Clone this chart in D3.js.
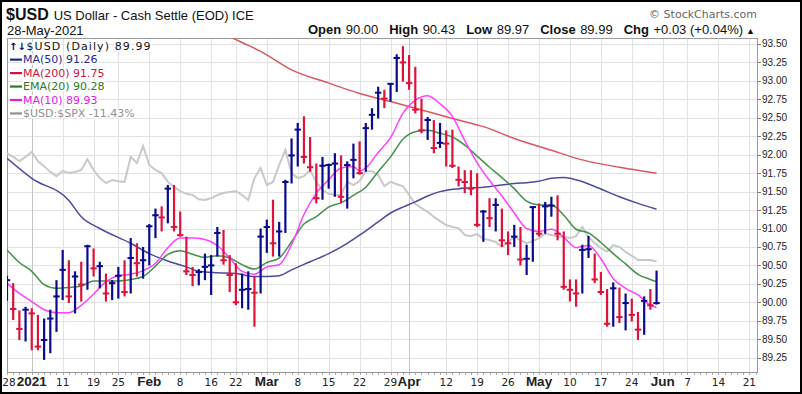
<!DOCTYPE html>
<html><head><meta charset="utf-8">
<script src="https://cdnjs.cloudflare.com/ajax/libs/d3/7.8.5/d3.min.js"></script>
<style>html,body{margin:0;padding:0;background:#fff;}svg{display:block;}</style>
</head><body>
<svg id="c" width="802" height="394"></svg>
<script>
// ---------- DATA (daily bars, index 0 = 28-Dec-2020 ... 105 = 28-May-2021) ----------
const highs = [90.36,90.26,89.89,89.94,89.92,89.83,89.78,89.90,90.30,90.71,
 90.57,90.42,90.55,90.78,90.73,90.55,90.39,90.30,90.48,90.57,
 90.87,90.80,90.75,91.06,91.27,91.30,91.59,91.59,91.23,90.89,
 90.48,90.45,90.66,90.64,91.02,90.98,90.64,90.53,90.39,90.42,
 90.35,91.00,91.12,91.39,91.09,91.66,92.22,92.43,92.52,92.24,
 91.88,91.97,91.88,92.02,91.99,91.91,92.15,92.18,92.43,92.63,
 92.92,92.88,92.97,93.36,93.47,93.35,93.19,92.76,92.51,92.47,
 92.43,92.33,92.34,91.84,91.79,91.79,91.75,91.25,91.41,91.41,
 91.27,90.96,91.05,91.02,90.78,91.30,91.34,91.36,91.43,91.45,
 90.96,90.31,90.31,90.78,90.90,90.66,90.41,90.18,90.27,90.20,
 90.12,90.05,89.87,90.08,90.18,90.43];
const lows = [90.02,89.76,89.49,89.47,89.35,89.35,89.22,89.31,89.60,90.03,
 89.99,89.85,90.01,90.17,90.35,90.19,90.01,90.03,90.05,90.08,
 90.12,90.35,90.32,90.50,90.87,90.96,91.07,90.96,90.89,90.37,
 90.22,90.23,90.30,90.10,90.62,90.51,90.14,89.96,89.92,89.90,
 89.67,90.12,90.67,90.62,90.62,90.94,91.61,91.84,91.88,91.77,
 91.34,91.39,91.54,91.43,91.34,91.27,91.68,91.73,91.77,92.34,
 92.49,92.63,92.72,92.85,92.99,92.88,92.56,92.29,92.20,92.02,
 92.09,91.84,91.82,91.57,91.48,91.45,91.02,90.82,91.02,90.96,
 90.75,90.64,90.75,90.50,90.37,90.55,90.89,90.93,91.16,90.84,
 90.17,90.01,89.94,90.12,90.60,90.26,90.10,89.67,89.67,89.72,
 89.62,89.74,89.49,89.56,89.90,89.97];
const closes = [90.30,89.91,89.64,89.90,89.85,89.40,89.49,89.78,90.08,90.44,
 90.08,90.35,90.24,90.76,90.46,90.49,90.12,90.26,90.36,90.14,
 90.60,90.53,90.57,91.03,91.18,91.15,91.54,91.02,90.91,90.42,
 90.37,90.41,90.48,90.50,90.94,90.57,90.37,90.00,90.17,90.18,
 90.13,90.89,91.02,90.80,90.96,91.63,91.99,92.34,91.97,91.83,
 91.41,91.85,91.86,91.88,91.43,91.86,91.93,91.75,92.36,92.54,
 92.84,92.76,92.96,93.31,93.25,92.97,92.61,92.33,92.47,92.09,
 92.16,92.15,91.85,91.66,91.63,91.54,91.05,91.23,91.14,91.32,
 90.84,90.80,90.89,90.58,90.59,91.29,90.93,91.30,91.31,90.93,
 90.21,90.17,90.12,90.71,90.72,90.31,90.14,89.71,90.19,89.80,
 89.99,89.83,89.63,90.02,89.96,89.99];
const prevClose = 90.21;

// $USD:$SPX ratio (x1000)
const ratio = [24.18,24.09,23.98,24.09,24.22,23.98,23.85,23.70,23.59,23.72,
 23.67,23.70,23.75,24.03,23.75,23.54,23.41,23.49,23.46,23.44,
 24.09,23.93,24.37,23.88,23.75,23.67,23.44,23.31,23.20,23.13,
 23.10,22.99,22.97,23.02,23.10,23.15,23.18,23.20,23.10,22.97,
 23.54,23.80,23.36,23.44,23.88,24.27,23.67,23.54,23.59,23.75,
 23.44,23.23,23.13,23.10,23.10,23.44,23.36,23.46,23.72,23.72,
 23.62,23.33,23.44,23.38,23.33,23.10,22.87,22.76,22.66,22.53,
 22.42,22.32,22.27,22.24,22.06,22.03,22.09,21.96,21.93,21.88,
 21.75,21.88,22.01,21.93,21.85,21.90,21.98,22.09,22.06,22.02,
 22.01,21.98,22.03,22.27,22.01,21.85,21.72,21.63,21.80,21.75,
 21.62,21.52,21.41,21.41,21.41,21.37];

// overlays: [day index, value]
const ma200 = [[36,93.60],[38,93.52],[41,93.40],[46,93.15],[52,92.97],[57,92.83],[62,92.72],[66,92.63],
 [72,92.49],[77,92.38],[82,92.22],[88,92.06],[93,91.93],[99,91.83],[105,91.75]];
const ma50 = [[0,91.95],[4,91.68],[10,91.38],[12,91.16],[15,91.00],[20,90.80],[23,90.66],[26,90.56],
 [29,90.48],[31,90.42],[34,90.40],[37,90.39],[40,90.35],[42,90.35],[44,90.36],[46,90.44],[49,90.55],
 [52,90.66],[55,90.80],[57,90.91],[60,91.09],[62,91.21],[64,91.29],[66,91.36],[68,91.44],[70,91.50],
 [73,91.54],[77,91.56],[80,91.59],[82,91.61],[84,91.62],[86,91.64],[88,91.68],[90,91.69],[92,91.66],
 [95,91.57],[99,91.43],[102,91.34],[105,91.26]];
const ema20 = [[0,90.71],[2,90.54],[4,90.42],[6,90.24],[8,90.19],[10,90.20],[12,90.22],[14,90.29],
 [16,90.29],[18,90.29],[20,90.31],[22,90.35],[24,90.49],[26,90.65],[28,90.70],[30,90.65],[32,90.61],
 [34,90.63],[36,90.60],[38,90.51],[40,90.45],[42,90.54],[44,90.60],[46,90.82],[48,91.06],[50,91.16],
 [52,91.29],[54,91.35],[56,91.45],[58,91.56],[60,91.77],[62,91.97],[64,92.21],[66,92.31],[68,92.33],
 [70,92.29],[72,92.24],[74,92.13],[76,91.98],[78,91.83],[80,91.69],[82,91.54],[84,91.37],[86,91.32],
 [88,91.32],[90,91.18],[92,90.99],[94,90.94],[96,90.81],[98,90.66],[100,90.52],[102,90.38],[104,90.31],[105,90.28]];
const ma10 = [[0,90.26],[2,90.12],[4,90.01],[6,89.90],[8,89.86],[10,89.86],[12,89.96],[14,90.11],
 [16,90.28],[18,90.36],[20,90.38],[22,90.43],[24,90.53],[26,90.74],[28,90.87],[30,90.87],[32,90.85],
 [34,90.77],[36,90.60],[38,90.42],[40,90.38],[42,90.48],[44,90.51],[46,90.78],[48,91.19],[50,91.48],
 [52,91.66],[54,91.82],[56,91.84],[57,91.78],[58,91.82],[60,92.03],[62,92.23],[64,92.56],[66,92.74],
 [68,92.80],[70,92.69],[72,92.52],[74,92.19],[76,91.89],[78,91.65],[80,91.44],[82,91.21],[84,91.00],
 [86,90.96],[88,90.99],[90,90.88],[92,90.74],[94,90.77],[96,90.59],[98,90.32],[100,90.19],[102,90.10],
 [104,89.96],[105,89.93]];

const yTickVals = [89.25,89.50,89.75,90.00,90.25,90.50,90.75,91.00,91.25,91.50,91.75,92.00,92.25,92.50,92.75,93.00,93.25,93.50];
const xTickIdx = [0,4,9,14,18,23,28,33,37,42,47,52,57,62,65,71,76,81,86,91,96,101,106,110,115,120];
const xTickLabels = ['28','2021','11','19','25','Feb','8','16','22','Mar','8','15','22','29','Apr','12','19','26','May','10','17','24','Jun','7','14','21'];
const xTickBold = [0,1,0,0,0,1,0,0,0,1,0,0,0,0,1,0,0,0,1,0,0,0,1,0,0,0];

const legendLabels = ['$USD (Daily) 89.99','MA(50) 91.26','MA(200) 91.75','EMA(20) 90.28','MA(10) 89.93','$USD:$SPX -11.43%'];
const legendColors = ['#111','#1f2a8a','#d0143c','#2a7a2a','#e020e0','#909090'];
const headerLabels = ['Open','High','Low','Close','Chg'];
const headerValues = ['90.00','90.43','89.97','89.99','+0.03 (+0.04%)'];

// ---------- DRAW ----------
const W = 802, H = 394;
const P = {l:7, r:758, t:38, b:372};
const x = d3.scaleLinear().domain([0,121.4]).range([P.l,P.r]);
const y = d3.scaleLinear().domain([89.056,93.581]).range([P.b,P.t]);
const yR = d3.scaleLinear().domain([18.50,27.18]).range([P.b,P.t]);
const UP = '#0a0a8c', DN = '#dc143c';

const svg = d3.select('#c');
svg.append('rect').attr('width',W).attr('height',H).attr('fill','#fff');
svg.append('clipPath').attr('id','clip').append('rect')
  .attr('x',P.l).attr('y',P.t).attr('width',P.r-P.l).attr('height',P.b-P.t);

// grid
const grid = svg.append('g');
grid.selectAll('line.h').data(yTickVals).join('line').attr('class','h')
  .attr('x1',P.l).attr('x2',P.r).attr('y1',d=>Math.round(y(d))+0.5).attr('y2',d=>Math.round(y(d))+0.5)
  .attr('stroke','#e2e2e2').attr('stroke-width',1);
grid.selectAll('line.v').data(xTickIdx.filter(i=>i>0)).join('line').attr('class','v')
  .attr('x1',d=>Math.round(x(d))+0.5).attr('x2',d=>Math.round(x(d))+0.5).attr('y1',P.t).attr('y2',P.b)
  .attr('stroke',d=>(d===65||d===4)?'#c4c4c4':'#e2e2e2').attr('stroke-width',1);

// daily ticks along bottom
svg.append('g').selectAll('line').data(d3.range(0,122)).join('line')
  .attr('x1',d=>Math.round(x(d))+0.5).attr('x2',d=>Math.round(x(d))+0.5)
  .attr('y1',P.b).attr('y2',P.b+3).attr('stroke','#aaa').attr('stroke-width',1);

// plot frame
svg.append('rect').attr('x',P.l+0.5).attr('y',P.t+0.5).attr('width',P.r-P.l-1).attr('height',P.b-P.t)
  .attr('fill','none').attr('stroke','#9a9a9a');

const plotG = svg.append('g').attr('clip-path','url(#clip)');
const line = d3.line().x(d=>x(d[0])).y(d=>y(d[1])).curve(d3.curveMonotoneX);

// ratio line
plotG.append('path').datum(ratio.map((v,i)=>[i,v]))
  .attr('d',d3.line().x(d=>x(d[0])).y(d=>yR(d[1])))
  .attr('fill','none').attr('stroke','#c9c9c9').attr('stroke-width',2);
// MAs
[[ma200,'#d9575f'],[ma50,'#4a4aa0'],[ema20,'#45904a'],[ma10,'#ff40ff']].forEach(([data,c])=>{
  plotG.append('path').datum(data).attr('d',line).attr('fill','none').attr('stroke',c).attr('stroke-width',1.5);
});

// bars
const idx = d3.range(closes.length);
const col = i => closes[i] >= (i ? closes[i-1] : prevClose) ? UP : DN;
const barG = plotG.append('g');
barG.selectAll('line.hl').data(idx).join('line').attr('class','hl')
  .attr('x1',i=>x(i)).attr('x2',i=>x(i)).attr('y1',i=>y(highs[i])).attr('y2',i=>y(lows[i]))
  .attr('stroke',col).attr('stroke-width',2.2);
barG.selectAll('line.cl').data(idx).join('line').attr('class','cl')
  .attr('x1',i=>x(i)-3.2).attr('x2',i=>x(i)+3.2).attr('y1',i=>y(closes[i])).attr('y2',i=>y(closes[i]))
  .attr('stroke',col).attr('stroke-width',2);

// right axis
const ax = svg.append('g');
ax.selectAll('line').data(yTickVals).join('line')
  .attr('x1',P.r).attr('x2',P.r+3).attr('y1',d=>Math.round(y(d))+0.5).attr('y2',d=>Math.round(y(d))+0.5)
  .attr('stroke','#777');
ax.selectAll('text').data(yTickVals).join('text')
  .attr('x',P.r+4).attr('y',d=>y(d)).attr('dy','0.35em')
  .attr('font-family','Liberation Sans, Arial, sans-serif').attr('font-size',10).attr('fill','#222')
  .text(d=>d.toFixed(2));

// x labels
svg.append('g').selectAll('text').data(xTickIdx).join('text')
  .attr('x',d=>Math.max(x(d),9)).attr('y',386).attr('text-anchor','middle')
  .attr('font-family',(d,i)=>xTickBold[i]?'Liberation Sans, Arial, sans-serif':'DejaVu Sans, sans-serif')
  .attr('font-weight',(d,i)=>xTickBold[i]?'bold':'normal')
  .attr('font-size',(d,i)=>xTickBold[i]?13.5:10.5).attr('fill','#222')
  .text((d,i)=>xTickLabels[i]);

// header
const hf = 'Liberation Sans, Arial, sans-serif';
const t1 = svg.append('text').attr('x',6).attr('y',20).attr('font-family',hf).attr('fill','#111');
t1.append('tspan').attr('font-weight','bold').attr('font-size',16).text('$USD');
t1.append('tspan').attr('font-size',13).attr('dx',5).text('US Dollar - Cash Settle (EOD) ICE');
svg.append('text').attr('x',7).attr('y',35).attr('font-family',hf).attr('font-size',13).attr('fill','#111').text('28-May-2021');
const t2 = svg.append('text').attr('x',755).attr('y',34).attr('text-anchor','end').attr('font-family',hf).attr('font-size',13).attr('fill','#111');
headerLabels.forEach((l,i)=>{
  t2.append('tspan').attr('font-weight','bold').attr('dx',i?11:0).text(l);
  t2.append('tspan').attr('dx',4.5).text(headerValues[i]);
});
t2.append('tspan').attr('font-size',9).attr('dx',3).text('▲');
svg.append('text').attr('x',757).attr('y',18).attr('text-anchor','end').attr('font-family','DejaVu Sans, sans-serif')
  .attr('font-size',11).attr('fill','#666').text('© StockCharts.com');

// legend
const lg = svg.append('g').attr('font-family','DejaVu Sans, sans-serif').attr('font-size',11);
legendLabels.forEach((l,i)=>{
  const by = 50 + i*13.45;
  if(i===0){
    lg.append('text').attr('x',9).attr('y',by).attr('fill','#000066').attr('font-weight','bold').attr('font-size',10)
      .attr('paint-order','stroke').attr('stroke','#fff').attr('stroke-width',3).text('↑↓');
  } else {
    lg.append('line').attr('x1',10).attr('x2',22).attr('y1',by-3.8).attr('y2',by-3.8)
      .attr('stroke',legendColors[i]).attr('stroke-width',2.2);
  }
  lg.append('text').attr('x',i===0?26.5:23).attr('y',by).attr('fill',legendColors[i])
    .attr('letter-spacing',i===0?1.1:0)
    .attr('paint-order','stroke').attr('stroke','#fff').attr('stroke-width',3).attr('stroke-linejoin','round')
    .text(l);
});

// outer frame
svg.append('rect').attr('x',1).attr('y',1).attr('width',W-2).attr('height',H-2)
  .attr('fill','none').attr('stroke','#000').attr('stroke-width',2);
</script>
</body></html>
